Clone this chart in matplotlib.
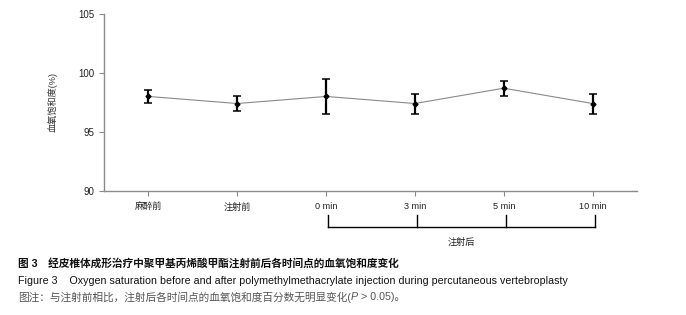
import matplotlib.pyplot as plt
import matplotlib.transforms as mtransforms
import numpy as np

plt.rcParams['font.family'] = ['Liberation Sans', 'Noto Sans CJK SC']

labels = ['麻醉前', '注射前', '0 min', '3 min', '5 min', '10 min']
means = [98.0, 97.4, 98.0, 97.4, 98.7, 97.4]
errs = [0.55, 0.6, 1.5, 0.85, 0.65, 0.85]
after_idx = [2, 3, 4, 5]

gray = '#8a8a8a'
x = np.arange(len(labels))

fig = plt.figure(figsize=(6.86, 3.15), dpi=100)
ax = fig.add_axes([0.1516, 0.3946, 0.777, 0.561])

ax.plot(x, means, color=gray, lw=0.8, zorder=2)
ax.errorbar(x, means, yerr=errs, fmt='D', ms=2.5, color='black', ecolor='black',
            elinewidth=1.6, capsize=2.8, capthick=1.1, zorder=3)

ax.set_xlim(-0.5, 5.5)
ax.set_ylim(90, 105)
ax.set_yticks([90, 95, 100, 105])
ax.set_xticks(x)
ax.set_xticklabels(labels)
for s in ['top', 'right']:
    ax.spines[s].set_visible(False)
for s in ['left', 'bottom']:
    ax.spines[s].set_color(gray)
    ax.spines[s].set_linewidth(1.0)
ax.tick_params(axis='both', colors=gray, length=3.5, width=0.8, labelsize=7, labelcolor='#222222')
ax.tick_params(axis='x', pad=4.8, labelsize=6.6)
ax.set_ylabel('血氧饱和度(%)', fontsize=6.6, color='#333333', labelpad=15)

# bracket below the post-injection time points
trans = mtransforms.blended_transform_factory(ax.transData, ax.transAxes)
y_top, y_bot = -0.136, -0.204
ax.plot([after_idx[0] + 0.02, after_idx[-1] + 0.03], [y_bot, y_bot], color='black',
        lw=1.0, transform=trans, clip_on=False)
for i in after_idx:
    ax.plot([i + 0.025, i + 0.025], [y_top, y_bot], color='black', lw=1.0,
            transform=trans, clip_on=False)
ax.text(np.mean([after_idx[0], after_idx[-1]]) + 0.02, -0.29, '注射后', fontsize=6.6,
        color='#222222', ha='center', va='center', transform=trans)

cap_fs = 7.7
fig.text(0.026, 1 - 263 / 315, '图 3　经皮椎体成形治疗中聚甲基丙烯酸甲酯注射前后各时间点的血氧饱和度变化',
         fontsize=cap_fs, color='#111111', va='center', ha='left', fontweight='bold')
fig.text(0.026, 1 - 281 / 315, 'Figure 3    Oxygen saturation before and after polymethylmethacrylate injection during percutaneous vertebroplasty',
         fontsize=cap_fs, color='#111111', va='center', ha='left')

# note line: pieces so that P can be italic
note_parts = [('图注：与注射前相比，注射后各时间点的血氧饱和度百分数无明显变化(', 'normal'),
              ('P', 'italic'), (' > 0.05)。', 'normal')]
renderer = fig.canvas.get_renderer()
xpos = 0.026
for txt, style in note_parts:
    t = fig.text(xpos, 1 - 297 / 315, txt, fontsize=cap_fs, color='#555555',
                 va='center', ha='left', style=style)
    bb = t.get_window_extent(renderer=renderer)
    xpos = bb.x1 / fig.bbox.width

fig.savefig('out.png', dpi=100)
